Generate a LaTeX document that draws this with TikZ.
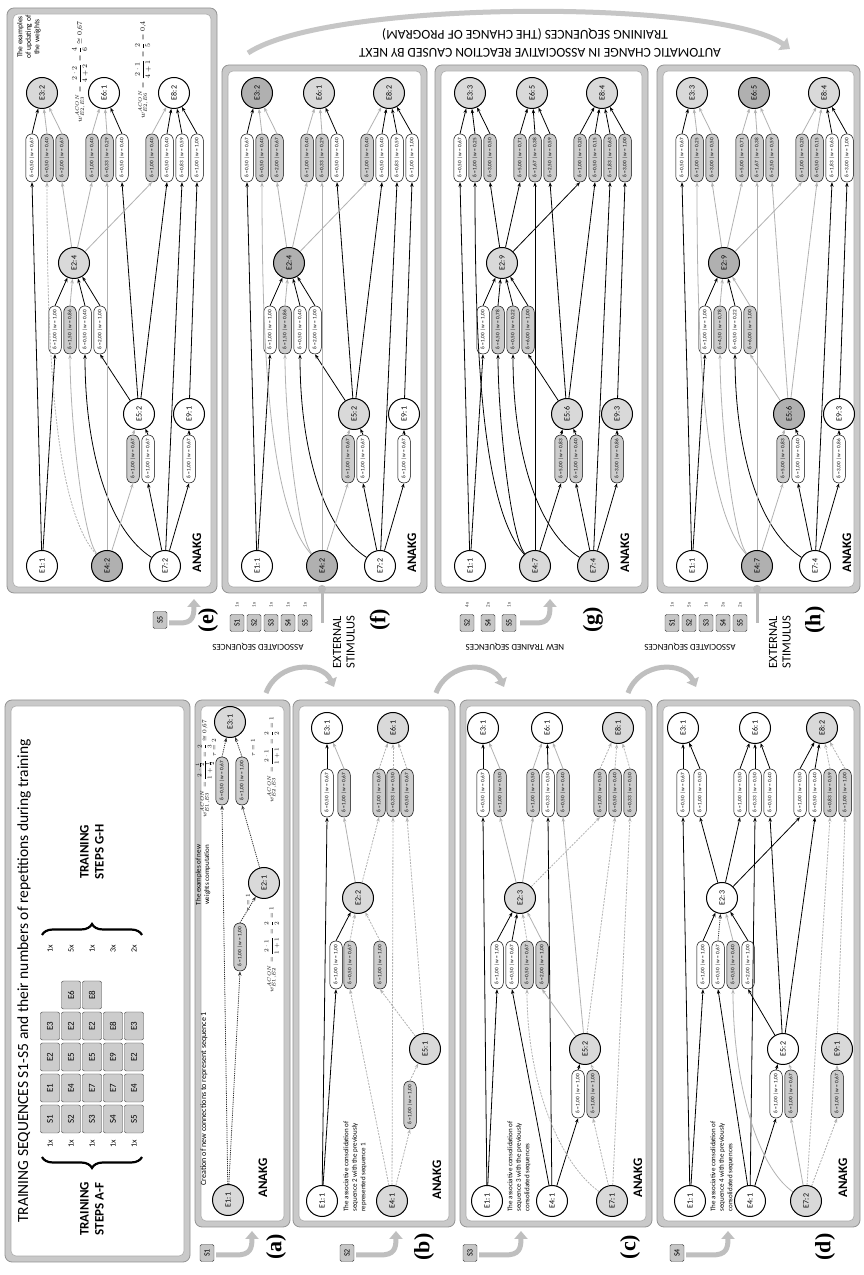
\documentclass[tikz,border=0pt]{standalone}
\usepackage{amsmath}
\usepackage{fontspec}
\setmainfont{Carlito}
\newfontfamily\lserif{Liberation Serif}
\usetikzlibrary{arrows.meta,calc,decorations.pathreplacing}
\newcommand{\enode}[5]{\node[#5] (#1) at (#2,-#3) {#4};}
\newcommand{\cbx}[6]{\node[#6] (#1) at (#2,-#3) {δ = #4 | w = #5};}
\newcommand{\cnx}[5]{\draw[#1] (#2) -- (#3.west); \draw[#4] (#3.east) -- (#5);}
\newcommand{\cnv}[6]{\draw[#1] (#3) #2 (#4.west); \draw[#5] (#4.east) -- (#6);}
\newcommand{\pnl}[4]{%
  \draw[fill=gray!42,draw=gray!85,line width=0.8pt,rounded corners=7pt] (#1,-#2) rectangle (#3,-#4);
  \draw[fill=white,draw=gray!65,line width=0.6pt,rounded corners=5pt] ($(#1,-#2)+(6,-6)$) rectangle ($(#3,-#4)+(-6,6)$);}
\tikzset{
  en/.style={circle,draw=black,line width=1pt,minimum size=31pt,inner sep=0pt,font=\fontsize{8}{9}\selectfont},
  ew/.style={en,fill=white},
  eg/.style={en,fill=gray!30},
  ed/.style={en,fill=gray!62},
  cb/.style={rectangle,rounded corners=6pt,draw=black,line width=0.5pt,minimum width=48pt,minimum height=12.5pt,inner sep=0pt,font=\fontsize{5.2}{5.5}\selectfont},
  cw/.style={cb,fill=white},
  cg/.style={cb,fill=gray!40},
  ak/.style={-{Stealth[length=4.5pt,width=3.4pt]},line width=0.8pt},
  lk/.style={ak,draw=black},
  lg/.style={ak,draw=gray!60},
  ld/.style={ak,draw=gray!60,dash pattern=on 2pt off 1.2pt},
  lkd/.style={ak,draw=black!80,dash pattern=on 1.2pt off 1pt},
  anakg/.style={font=\bfseries\fontsize{13}{13}\selectfont},
  lab/.style={font=\lserif\bfseries\fontsize{22}{22}\selectfont},
  sbx/.style={rectangle,rounded corners=1.5pt,draw=gray!50!black,fill=gray!45,minimum width=17pt,minimum height=14pt,inner sep=0pt,font=\fontsize{8}{8}\selectfont},
  ttl/.style={rectangle,rounded corners=2pt,draw=gray!50!black,fill=gray!40,minimum width=28pt,minimum height=19pt,inner sep=0pt,font=\fontsize{9}{9}\selectfont},
  garr/.style={draw=gray!50,line width=5pt,-{Triangle[length=8pt,width=13pt]}},
  txt/.style={font=\fontsize{7}{8.5}\selectfont,align=left},
  frm/.style={font=\fontsize{6}{7}\selectfont},
  cnt/.style={font=\fontsize{8}{8}\selectfont},
  cnt2/.style={font=\fontsize{5}{5}\selectfont,text=gray!40!black},
  side/.style={font=\fontsize{9}{9}\selectfont,rotate=90},
  ext/.style={font=\fontsize{12.5}{13.5}\selectfont,align=left,anchor=west},
}
\begin{document}
\begin{tikzpicture}[x=1pt,y=1pt]
\useasboundingbox (0,0) rectangle (863,1275);
\fill[white] (0,0) rectangle (863,1275);
\begin{scope}[rotate=90,transform shape]
% ---------------- title panel
\pnl{13}{5}{575}{190}
\node[font=\fontsize{15.5}{16}\selectfont] (title) at (294,-24) {TRAINING SEQUENCES S1-S5 and their numbers of repetitions during training};
\foreach \t [count=\i] in {S1,E1,E2,E3} \node[ttl] (r1c\i) at ({125+31*\i},-50) {\t};
\foreach \t [count=\i] in {S2,E4,E5,E2,E6} \node[ttl] (r2c\i) at ({125+31*\i},-71) {\t};
\foreach \t [count=\i] in {S3,E7,E5,E2,E8} \node[ttl] (r3c\i) at ({125+31*\i},-92) {\t};
\foreach \t [count=\i] in {S4,E7,E9,E8} \node[ttl] (r4c\i) at ({125+31*\i},-113) {\t};
\foreach \t [count=\i] in {S5,E4,E2,E3} \node[ttl] (r5c\i) at ({125+31*\i},-134) {\t};
\foreach \yy [count=\i] in {50,71,92,113,134} \node[cnt] (lc\i) at (131,-\yy) {1x};
\foreach \yy/\c [count=\i] in {50/1x,71/5x,92/1x,113/3x,134/2x} \node[cnt] (rc\i) at (326,-\yy) {\c};
\draw[decorate,decoration={brace,amplitude=11pt},line width=2.2pt] (118,-142) -- (118,-42);
\draw[decorate,decoration={brace,amplitude=11pt},line width=2.2pt] (340,-42) -- (340,-142);
\node[font=\bfseries\fontsize{13}{15}\selectfont,align=center] (tsl) at (66,-92) {TRAINING\\STEPS A-F};
\node[font=\bfseries\fontsize{13}{15}\selectfont,align=center] (tsr) at (423,-92) {TRAINING\\STEPS G-H};
% ---------------- panel (a)
\pnl{48}{195}{575}{290}
\node[font=\fontsize{8}{9}\selectfont,anchor=west] (aT1) at (86,-204) {Creation of new connections to represent sequence 1};
\node[txt,align=center] (aT2) at (400,-203) {The examples of new\\weights computation};
\enode{aE1}{75}{228}{E1:1}{eg}
\node[anakg] (aAN) at (97,-263) {ANAKG};
\cbx{a12}{328}{240}{1,00}{1,00}{cg}
\enode{aE2}{392}{264}{E2:1}{eg}
\cbx{a13}{494}{222}{0,50}{0,67}{cg}
\cbx{a23}{494}{242}{1,00}{1,00}{cg}
\enode{aE3}{553}{230}{E3:1}{eg}
\cnx{lkd}{aE1}{a12}{lkd}{aE2}
\cnx{lkd}{aE1}{a13}{lkd}{aE3}
\cnx{lkd}{aE2}{a23}{lkd}{aE3}
\node[frm] (aTau1) at (372,-248) {$\tau=1$};
\node[frm] (aF1) at (325,-272) {$w^{ACON}_{E1,E2}=\dfrac{2\cdot 1}{1+1}=\dfrac{2}{2}=1$};
\node[frm] (aF2) at (515,-272) {$w^{ACON}_{E2,E3}=\dfrac{2\cdot 1}{1+1}=\dfrac{2}{2}=1$};
\node[frm] (aF3) at (506,-205) {$w^{ACON}_{E1,E3}=\dfrac{2\cdot\frac{1}{2}}{1+\frac{1}{2}}=\dfrac{2}{3}\cong 0{,}67$};
\node[frm] (aTau2) at (527,-214) {$\tau=2$};
\node[frm] (aTau3) at (527,-253) {$\tau=1$};
% ---------------- panel (b)
\pnl{48}{293}{575}{455}
\enode{bE1}{74}{322}{E1:1}{ew}
\enode{bE4}{74}{392}{E4:1}{eg}
\enode{bE5}{226}{425}{E5:1}{eg}
\enode{bE2}{377}{358}{E2:2}{eg}
\enode{bE3}{547}{327}{E3:1}{ew}
\enode{bE6}{547}{393}{E6:1}{eg}
\cbx{b45}{170}{410}{1,00}{1,00}{cg}
\cbx{b12}{310}{336}{1,00}{1,00}{cw}
\cbx{b42}{310}{350}{0,50}{0,67}{cg}
\cbx{b52}{310}{380}{1,00}{1,00}{cg}
\cbx{b13}{482}{327}{0,50}{0,67}{cw}
\cbx{b23}{482}{344}{1,00}{0,67}{cg}
\cbx{b26}{482}{379}{1,00}{0,67}{cg}
\cbx{b46}{482}{393}{0,33}{0,50}{cg}
\cbx{b56}{482}{407}{0,50}{0,67}{cg}
\node[anakg] (bAN) at (95,-437) {ANAKG};
\node[txt,anchor=north west] (bT) at (60,-340) {The associative consolidation of\\sequence 2 with the previously\\represented sequence 1};
\cnx{lk}{bE1}{b12}{lk}{bE2}
\cnx{lk}{bE1}{b13}{lk}{bE3}
\cnx{ld}{bE4}{b42}{ld}{bE2}
\cnx{ld}{bE4}{b46}{ld}{bE6}
\cnx{ld}{bE4}{b45}{ld}{bE5}
\cnx{ld}{bE5}{b52}{ld}{bE2}
\cnx{ld}{bE5}{b56}{ld}{bE6}
\cnx{lg}{bE2}{b23}{lg}{bE3}
\cnx{ld}{bE2}{b26}{ld}{bE6}
% ---------------- panel (c)
\pnl{48}{460}{575}{652}
\enode{cE1}{74}{487}{E1:1}{ew}
\enode{cE4}{74}{552}{E4:1}{ew}
\enode{cE7}{74}{612}{E7:1}{eg}
\enode{cE5}{226}{585}{E5:2}{eg}
\enode{cE2}{377}{520}{E2:3}{eg}
\enode{cE3}{547}{483}{E3:1}{ew}
\enode{cE6}{547}{547}{E6:1}{ew}
\enode{cE8}{547}{618}{E8:1}{eg}
\cbx{c45}{181}{578}{1,00}{1,00}{cw}
\cbx{c75}{181}{593}{1,00}{1,00}{cg}
\cbx{c12}{310}{497}{1,00}{1,00}{cw}
\cbx{c42}{310}{512}{0,50}{0,67}{cw}
\cbx{c72}{310}{527}{0,50}{0,67}{cg}
\cbx{c52}{310}{542}{2,00}{1,00}{cg}
\cbx{c13}{482}{483}{0,50}{0,67}{cw}
\cbx{c23}{482}{500}{1,00}{0,50}{cg}
\cbx{c26}{482}{533}{1,00}{0,50}{cg}
\cbx{c46}{482}{548}{0,33}{0,50}{cw}
\cbx{c56}{482}{563}{0,50}{0,40}{cg}
\cbx{c28}{482}{600}{1,00}{0,50}{cg}
\cbx{c58}{482}{615}{0,50}{0,40}{cg}
\cbx{c78}{482}{630}{0,33}{0,50}{cg}
\node[anakg] (cAN) at (97,-638) {ANAKG};
\node[txt,anchor=north west] (cT) at (60,-504) {The associative consolidation of\\sequence 3 with the previously\\consolidated sequences};
\cnx{lk}{cE1}{c12}{lk}{cE2}
\cnx{lk}{cE1}{c13}{lk}{cE3}
\cnx{lk}{cE4}{c42}{lk}{cE2}
\cnx{lk}{cE4}{c46}{lk}{cE6}
\cnx{lk}{cE4}{c45}{lk}{cE5}
\cnv{ld}{.. controls +(40,55) and +(-90,0) ..}{cE7}{c72}{ld}{cE2}
\cnx{ld}{cE7}{c75}{ld}{cE5}
\cnx{ld}{cE7}{c78}{ld}{cE8}
\cnx{lg}{cE5}{c52}{lg}{cE2}
\cnx{lg}{cE5}{c56}{lg}{cE6}
\cnx{ld}{cE5}{c58}{ld}{cE8}
\cnx{lg}{cE2}{c23}{lg}{cE3}
\cnx{lg}{cE2}{c26}{lg}{cE6}
\cnx{ld}{cE2}{c28}{ld}{cE8}
% ---------------- panel (d)
\pnl{48}{657}{575}{860}
\enode{dE1}{74}{690}{E1:1}{ew}
\enode{dE4}{74}{750}{E4:1}{ew}
\enode{dE7}{74}{806}{E7:2}{eg}
\enode{dE5}{226}{783}{E5:2}{ew}
\enode{dE9}{226}{837}{E9:1}{eg}
\enode{dE2}{377}{722}{E2:3}{ew}
\enode{dE3}{547}{683}{E3:1}{ew}
\enode{dE6}{547}{755}{E6:1}{ew}
\enode{dE8}{547}{822}{E8:2}{eg}
\cbx{d45}{181}{776}{1,00}{1,00}{cw}
\cbx{d75}{181}{791}{1,00}{0,67}{cg}
\cbx{d79}{181}{837}{1,00}{0,67}{cg}
\cbx{d12}{310}{703}{1,00}{1,00}{cw}
\cbx{d42}{310}{718}{0,50}{0,67}{cw}
\cbx{d72}{310}{733}{0,50}{0,40}{cg}
\cbx{d52}{310}{748}{2,00}{1,00}{cw}
\cbx{d13}{482}{683}{0,50}{0,67}{cw}
\cbx{d23}{482}{700}{1,00}{0,50}{cw}
\cbx{d26}{482}{740}{1,00}{0,50}{cw}
\cbx{d46}{482}{755}{0,33}{0,50}{cw}
\cbx{d56}{482}{770}{0,50}{0,40}{cw}
\cbx{d28}{482}{800}{1,00}{0,50}{cw}
\cbx{d58}{482}{815}{0,50}{0,40}{cw}
\cbx{d78}{482}{830}{0,83}{0,59}{cg}
\cbx{d98}{482}{845}{1,00}{1,00}{cg}
\node[anakg] (dAN) at (97,-843) {ANAKG};
\node[txt,anchor=north west] (dT) at (60,-707) {The associative consolidation of\\sequence 4 with the previously\\consolidated sequences};
\cnx{lk}{dE1}{d12}{lk}{dE2}
\cnx{lk}{dE1}{d13}{lk}{dE3}
\cnx{lk}{dE4}{d42}{lkd}{dE2}
\cnx{lk}{dE4}{d46}{lk}{dE6}
\cnx{lk}{dE4}{d45}{lk}{dE5}
\cnv{lg}{.. controls +(35,50) and +(-90,0) ..}{dE7}{d72}{lg}{dE2}
\cnx{lg}{dE7}{d75}{lg}{dE5}
\cnx{ld}{dE7}{d78}{ld}{dE8}
\cnx{ld}{dE7}{d79}{ld}{dE9}
\cnx{lk}{dE5}{d52}{lk}{dE2}
\cnx{lk}{dE5}{d56}{lk}{dE6}
\cnx{lk}{dE5}{d58}{lk}{dE8}
\cnx{ld}{dE9}{d98}{ld}{dE8}
\cnx{lk}{dE2}{d23}{lk}{dE3}
\cnx{lk}{dE2}{d26}{lk}{dE6}
\cnx{lk}{dE2}{d28}{lk}{dE8}
% ---------------- left labels
\node[sbx] (sA) at (22,-207) {S1};
\draw[garr] (20,-216) -- (20,-236) .. controls (20,-250) and (26,-252) .. (44,-252);
\node[lab] (labA) at (28,-276) {(a)};
\node[sbx] (sB) at (22,-347) {S2};
\draw[garr] (20,-356) -- (20,-380) .. controls (20,-394) and (26,-396) .. (44,-396);
\node[lab] (labB) at (28,-424) {(b)};
\node[sbx] (sC) at (22,-470) {S3};
\draw[garr] (20,-479) -- (20,-505) .. controls (20,-519) and (26,-521) .. (44,-521);
\node[lab] (labC) at (28,-630) {(c)};
\node[sbx] (sD) at (22,-677) {S4};
\draw[garr] (20,-686) -- (20,-712) .. controls (20,-726) and (26,-728) .. (44,-728);
\node[lab] (labD) at (28,-825) {(d)};
% curved arrows between left panels
\draw[garr] (582,-266) .. controls (614,-278) and (614,-322) .. (588,-334);
\draw[garr] (582,-436) .. controls (614,-448) and (614,-492) .. (588,-504);
\draw[garr] (582,-628) .. controls (614,-640) and (614,-684) .. (588,-696);
% ---------------- panel (e)
\pnl{682}{7}{1267}{217}
\begin{scope}[shift={(0,-7)}]
\enode{eE1}{709}{35}{E1:1}{ew}
\enode{eE4}{709}{100}{E4:2}{ed}
\enode{eE7}{709}{158}{E7:2}{ew}
\node[anakg] (eAN) at (722,-190) {ANAKG};
\enode{eE5}{861}{132}{E5:2}{ew}
\enode{eE9}{861}{182}{E9:1}{ew}
\enode{eE2}{1012}{67}{E2:4}{eg}
\enode{eE3}{1182}{35}{E3:2}{eg}
\enode{eE6}{1182}{97}{E6:1}{ew}
\enode{eE8}{1182}{167}{E8:2}{ew}
\cbx{e45}{816}{126}{1,00}{0,67}{cg}
\cbx{e75}{816}{141}{1,00}{0,67}{cw}
\cbx{e79}{816}{182}{1,00}{0,67}{cw}
\cbx{e12}{945}{48}{1,00}{1,00}{cw}
\cbx{e42}{945}{63}{1,50}{0,86}{cg}
\cbx{e72}{945}{78}{0,50}{0,40}{cw}
\cbx{e52}{945}{93}{2,00}{1,00}{cw}
\cbx{e13}{1117}{25}{0,50}{0,67}{cw}
\cbx{e43}{1117}{40}{0,50}{0,40}{cg}
\cbx{e23}{1117}{55}{2,00}{0,67}{cg}
\cbx{e26}{1117}{85}{1,00}{0,40}{cg}
\cbx{e46}{1117}{100}{0,33}{0,29}{cg}
\cbx{e56}{1117}{115}{0,50}{0,40}{cw}
\cbx{e28}{1117}{145}{1,00}{0,40}{cg}
\cbx{e58}{1117}{160}{0,50}{0,40}{cw}
\cbx{e78}{1117}{175}{0,83}{0,59}{cw}
\cbx{e98}{1117}{190}{1,00}{1,00}{cw}
\cnx{lk}{eE1}{e12}{lk}{eE2}
\cnv{lg}{.. controls +(30,25) and +(-60,0) ..}{eE4}{e42}{lg}{eE2}
\cnv{lk}{.. controls +(35,55) and +(-100,0) ..}{eE7}{e72}{lk}{eE2}
\cnx{lk}{eE5}{e52}{lk}{eE2}
\cnx{lk}{eE1}{e13}{lk}{eE3}
\cnv{ld}{.. controls +(60,55) and +(-150,0) ..}{eE4}{e43}{lg}{eE3}
\cnx{lg}{eE2}{e23}{lg}{eE3}
\cnx{lg}{eE2}{e26}{lg}{eE6}
\cnx{lg}{eE4}{e46}{lg}{eE6}
\cnx{lk}{eE5}{e56}{lk}{eE6}
\cnx{lg}{eE2}{e28}{lg}{eE8}
\cnx{lk}{eE5}{e58}{lk}{eE8}
\cnx{lk}{eE7}{e78}{lk}{eE8}
\cnx{lk}{eE9}{e98}{lk}{eE8}
\cnx{lg}{eE4}{e45}{lg}{eE5}
\cnx{lk}{eE7}{e75}{lk}{eE5}
\cnx{lk}{eE7}{e79}{lk}{eE9}
\node[font=\fontsize{7.5}{8.5}\selectfont,align=center] (eTx) at (1238,-22) {The examples\\of updating of\\the weights};
\node[font=\fontsize{7}{8}\selectfont] (eF1) at (1203,-73) {$w^{ACON}_{E2,E3}=\dfrac{2\cdot 2}{4+2}=\dfrac{4}{6}\cong 0{,}67$};
\node[font=\fontsize{7}{8}\selectfont] (eF2) at (1205,-136) {$w^{ACON}_{E2,E6}=\dfrac{2\cdot 1}{4+1}=\dfrac{2}{5}=0{,}4$};
\end{scope}
% ---------------- panel (f)
\pnl{682}{222}{1210}{427}
\begin{scope}[shift={(0,-222)}]
\enode{fE1}{709}{35}{E1:1}{ew}
\enode{fE4}{709}{100}{E4:2}{ed}
\enode{fE7}{709}{158}{E7:2}{ew}
\node[anakg] (fAN) at (722,-190) {ANAKG};
\enode{fE5}{861}{132}{E5:2}{eg}
\enode{fE9}{861}{182}{E9:1}{ew}
\enode{fE2}{1012}{67}{E2:4}{ed}
\enode{fE3}{1182}{35}{E3:2}{ed}
\enode{fE6}{1182}{97}{E6:1}{eg}
\enode{fE8}{1182}{167}{E8:2}{eg}
\cbx{f45}{816}{126}{1,00}{0,67}{cg}
\cbx{f75}{816}{141}{1,00}{0,67}{cw}
\cbx{f79}{816}{182}{1,00}{0,67}{cw}
\cbx{f12}{945}{48}{1,00}{1,00}{cw}
\cbx{f42}{945}{63}{1,50}{0,86}{cg}
\cbx{f72}{945}{78}{0,50}{0,40}{cw}
\cbx{f52}{945}{93}{2,00}{1,00}{cw}
\cbx{f13}{1117}{25}{0,50}{0,67}{cw}
\cbx{f43}{1117}{40}{0,50}{0,40}{cg}
\cbx{f23}{1117}{55}{2,00}{0,67}{cg}
\cbx{f26}{1117}{85}{1,00}{0,40}{cg}
\cbx{f46}{1117}{100}{0,33}{0,29}{cg}
\cbx{f56}{1117}{115}{0,50}{0,40}{cw}
\cbx{f28}{1117}{145}{1,00}{0,40}{cg}
\cbx{f58}{1117}{160}{0,50}{0,40}{cw}
\cbx{f78}{1117}{175}{0,83}{0,59}{cw}
\cbx{f98}{1117}{190}{1,00}{1,00}{cw}
\cnx{lk}{fE1}{f12}{lk}{fE2}
\cnv{lg}{.. controls +(30,25) and +(-60,0) ..}{fE4}{f42}{lg}{fE2}
\cnv{lk}{.. controls +(35,55) and +(-100,0) ..}{fE7}{f72}{lk}{fE2}
\cnx{lk}{fE5}{f52}{lk}{fE2}
\cnx{lk}{fE1}{f13}{lk}{fE3}
\cnv{lg}{.. controls +(60,55) and +(-150,0) ..}{fE4}{f43}{lg}{fE3}
\cnx{lg}{fE2}{f23}{lg}{fE3}
\cnx{lg}{fE2}{f26}{lg}{fE6}
\cnx{lg}{fE4}{f46}{lg}{fE6}
\cnx{lk}{fE5}{f56}{lk}{fE6}
\cnx{lg}{fE2}{f28}{lg}{fE8}
\cnx{lk}{fE5}{f58}{lk}{fE8}
\cnx{lk}{fE7}{f78}{lk}{fE8}
\cnx{lk}{fE9}{f98}{lk}{fE8}
\cnx{lg}{fE4}{f45}{lg}{fE5}
\cnx{lk}{fE7}{f75}{lk}{fE5}
\cnx{lk}{fE7}{f79}{lk}{fE9}
\end{scope}
% ---------------- panel (g)
\pnl{682}{435}{1210}{648}
\begin{scope}[shift={(0,-435)}]
\enode{gE1}{709}{35}{E1:1}{ew}
\enode{gE4}{709}{100}{E4:7}{eg}
\enode{gE7}{709}{158}{E7:4}{eg}
\node[anakg] (gAN) at (722,-190) {ANAKG};
\enode{gE5}{861}{132}{E5:6}{eg}
\enode{gE9}{861}{182}{E9:3}{eg}
\enode{gE2}{1012}{67}{E2:9}{eg}
\enode{gE3}{1182}{35}{E3:3}{eg}
\enode{gE6}{1182}{97}{E6:5}{eg}
\enode{gE8}{1182}{167}{E8:4}{eg}
\cbx{g45}{816}{126}{5,00}{0,83}{cg}
\cbx{g75}{816}{141}{1,00}{0,40}{cg}
\cbx{g79}{816}{182}{3,00}{0,86}{cg}
\cbx{g12}{945}{48}{1,00}{1,00}{cw}
\cbx{g42}{945}{63}{4,50}{0,78}{cg}
\cbx{g72}{945}{78}{0,50}{0,22}{cg}
\cbx{g52}{945}{93}{6,00}{1,00}{cg}
\cbx{g13}{1117}{25}{0,50}{0,67}{cw}
\cbx{g43}{1117}{40}{1,00}{0,25}{cg}
\cbx{g23}{1117}{55}{3,00}{0,50}{cg}
\cbx{g26}{1117}{85}{5,00}{0,71}{cg}
\cbx{g46}{1117}{100}{1,67}{0,38}{cg}
\cbx{g56}{1117}{115}{2,50}{0,59}{cg}
\cbx{g28}{1117}{145}{1,00}{0,20}{cg}
\cbx{g58}{1117}{160}{0,50}{0,15}{cg}
\cbx{g78}{1117}{175}{1,83}{0,63}{cg}
\cbx{g98}{1117}{190}{3,00}{1,00}{cg}
\cnx{lk}{gE1}{g12}{lk}{gE2}
\cnv{lk}{.. controls +(30,25) and +(-60,0) ..}{gE4}{g42}{lk}{gE2}
\cnv{lk}{.. controls +(35,55) and +(-100,0) ..}{gE7}{g72}{lk}{gE2}
\cnx{lk}{gE5}{g52}{lk}{gE2}
\cnx{lk}{gE1}{g13}{lk}{gE3}
\cnv{lk}{.. controls +(60,55) and +(-150,0) ..}{gE4}{g43}{lk}{gE3}
\cnx{lk}{gE2}{g23}{lk}{gE3}
\cnx{lk}{gE2}{g26}{lk}{gE6}
\cnx{lk}{gE4}{g46}{lk}{gE6}
\cnx{lk}{gE5}{g56}{lk}{gE6}
\cnx{lk}{gE2}{g28}{lk}{gE8}
\cnx{lk}{gE5}{g58}{lk}{gE8}
\cnx{lk}{gE7}{g78}{lk}{gE8}
\cnx{lk}{gE9}{g98}{lk}{gE8}
\cnx{lk}{gE4}{g45}{lk}{gE5}
\cnx{lk}{gE7}{g75}{lk}{gE5}
\cnx{lk}{gE7}{g79}{lk}{gE9}
\end{scope}
% ---------------- panel (h)
\pnl{682}{657}{1210}{860}
\begin{scope}[shift={(0,-657)}]
\enode{hE1}{709}{35}{E1:1}{ew}
\enode{hE4}{709}{100}{E4:7}{ed}
\enode{hE7}{709}{158}{E7:4}{ew}
\node[anakg] (hAN) at (722,-190) {ANAKG};
\enode{hE5}{861}{132}{E5:6}{ed}
\enode{hE9}{861}{182}{E9:3}{ew}
\enode{hE2}{1012}{67}{E2:9}{ed}
\enode{hE3}{1182}{35}{E3:3}{eg}
\enode{hE6}{1182}{97}{E6:5}{ed}
\enode{hE8}{1182}{167}{E8:4}{eg}
\cbx{h45}{816}{126}{5,00}{0,83}{cg}
\cbx{h75}{816}{141}{1,00}{0,40}{cw}
\cbx{h79}{816}{182}{3,00}{0,86}{cw}
\cbx{h12}{945}{48}{1,00}{1,00}{cw}
\cbx{h42}{945}{63}{4,50}{0,78}{cg}
\cbx{h72}{945}{78}{0,50}{0,22}{cw}
\cbx{h52}{945}{93}{6,00}{1,00}{cg}
\cbx{h13}{1117}{25}{0,50}{0,67}{cw}
\cbx{h43}{1117}{40}{1,00}{0,25}{cg}
\cbx{h23}{1117}{55}{3,00}{0,50}{cg}
\cbx{h26}{1117}{85}{5,00}{0,71}{cg}
\cbx{h46}{1117}{100}{1,67}{0,38}{cg}
\cbx{h56}{1117}{115}{2,50}{0,59}{cg}
\cbx{h28}{1117}{145}{1,00}{0,20}{cg}
\cbx{h58}{1117}{160}{0,50}{0,15}{cg}
\cbx{h78}{1117}{175}{1,83}{0,63}{cw}
\cbx{h98}{1117}{190}{3,00}{1,00}{cw}
\cnx{lk}{hE1}{h12}{lk}{hE2}
\cnv{lg}{.. controls +(30,25) and +(-60,0) ..}{hE4}{h42}{lg}{hE2}
\cnv{lk}{.. controls +(35,55) and +(-100,0) ..}{hE7}{h72}{lk}{hE2}
\cnx{lg}{hE5}{h52}{lg}{hE2}
\cnx{lk}{hE1}{h13}{lk}{hE3}
\cnv{lg}{.. controls +(60,55) and +(-150,0) ..}{hE4}{h43}{lg}{hE3}
\cnx{lg}{hE2}{h23}{lg}{hE3}
\cnx{lg}{hE2}{h26}{lg}{hE6}
\cnx{lg}{hE4}{h46}{lg}{hE6}
\cnx{lg}{hE5}{h56}{lg}{hE6}
\cnx{lg}{hE2}{h28}{lg}{hE8}
\cnx{lg}{hE5}{h58}{lg}{hE8}
\cnx{lk}{hE7}{h78}{lk}{hE8}
\cnx{lk}{hE9}{h98}{lk}{hE8}
\cnx{lg}{hE4}{h45}{lg}{hE5}
\cnx{lk}{hE7}{h75}{lk}{hE5}
\cnx{lk}{hE7}{h79}{lk}{hE9}
\end{scope}
% ---------------- right labels
\node[sbx] (sE) at (655,-160) {S5};
\draw[garr] (652,-169) -- (652,-180) .. controls (652,-192) and (658,-194) .. (676,-194);
\node[lab] (labE) at (655,-208) {(e)};
\foreach \s/\c [count=\i] in {S1/1x,S2/1x,S3/1x,S4/1x,S5/1x} {\node[sbx] (fs\i) at (652,{-220-17*\i}) {\s}; \node[cnt2] (fc\i) at (670,{-220-17*\i}) {\c};}
\node[side] (fAS) at (628,-258) {ASSOCIATED SEQUENCES};
\coordinate (fpin) at (686,-322);
\draw[gray!55,line width=3pt] (652,-322) -- (fpin);
\fill[gray!55] (fpin) circle (4);
\node[ext] (fEX) at (603,-344) {EXTERNAL\\STIMULUS};
\node[lab] (labF) at (655,-380) {(f)};
\foreach \s/\c [count=\i] in {S2/4x,S4/2x,S5/1x} {\node[sbx] (gs\i) at (652,{-446-21*\i}) {\s}; \node[cnt2] (gc\i) at (670,{-446-21*\i}) {\c};}
\draw[garr] (652,-520) -- (652,-536) .. controls (652,-548) and (658,-550) .. (676,-550);
\node[side] (gNT) at (628,-515) {NEW TRAINED SEQUENCES};
\node[lab] (labG) at (655,-593) {(g)};
\foreach \s/\c [count=\i] in {S1/1x,S2/5x,S3/1x,S4/3x,S5/2x} {\node[sbx] (hs\i) at (652,{-655-17*\i}) {\s}; \node[cnt2] (hc\i) at (670,{-655-17*\i}) {\c};}
\node[side] (hAS) at (628,-690) {ASSOCIATED SEQUENCES};
\coordinate (hpin) at (686,-757);
\draw[gray!55,line width=3pt] (652,-757) -- (hpin);
\fill[gray!55] (hpin) circle (4);
\node[ext] (hEX) at (603,-780) {EXTERNAL\\STIMULUS};
\node[lab] (labH) at (655,-815) {(h)};
% ---------------- top arc
\draw[draw=gray!45,line width=5pt,-{Triangle[length=9pt,width=15pt]}] (1222,-248) .. controls (1276,-330) and (1276,-720) .. (1226,-790);
\node[font=\fontsize{13.5}{13.5}\selectfont,rotate=90] (arcT1) at (1222,-540) {AUTOMATIC CHANGE IN ASSOCIATIVE REACTION CAUSED BY NEXT};
\node[font=\fontsize{13.5}{13.5}\selectfont,rotate=90] (arcT2) at (1240,-525) {TRAINING SEQUENCES (THE CHANGE OF PROGRAM)};
\end{scope}
\end{tikzpicture}
\end{document}
